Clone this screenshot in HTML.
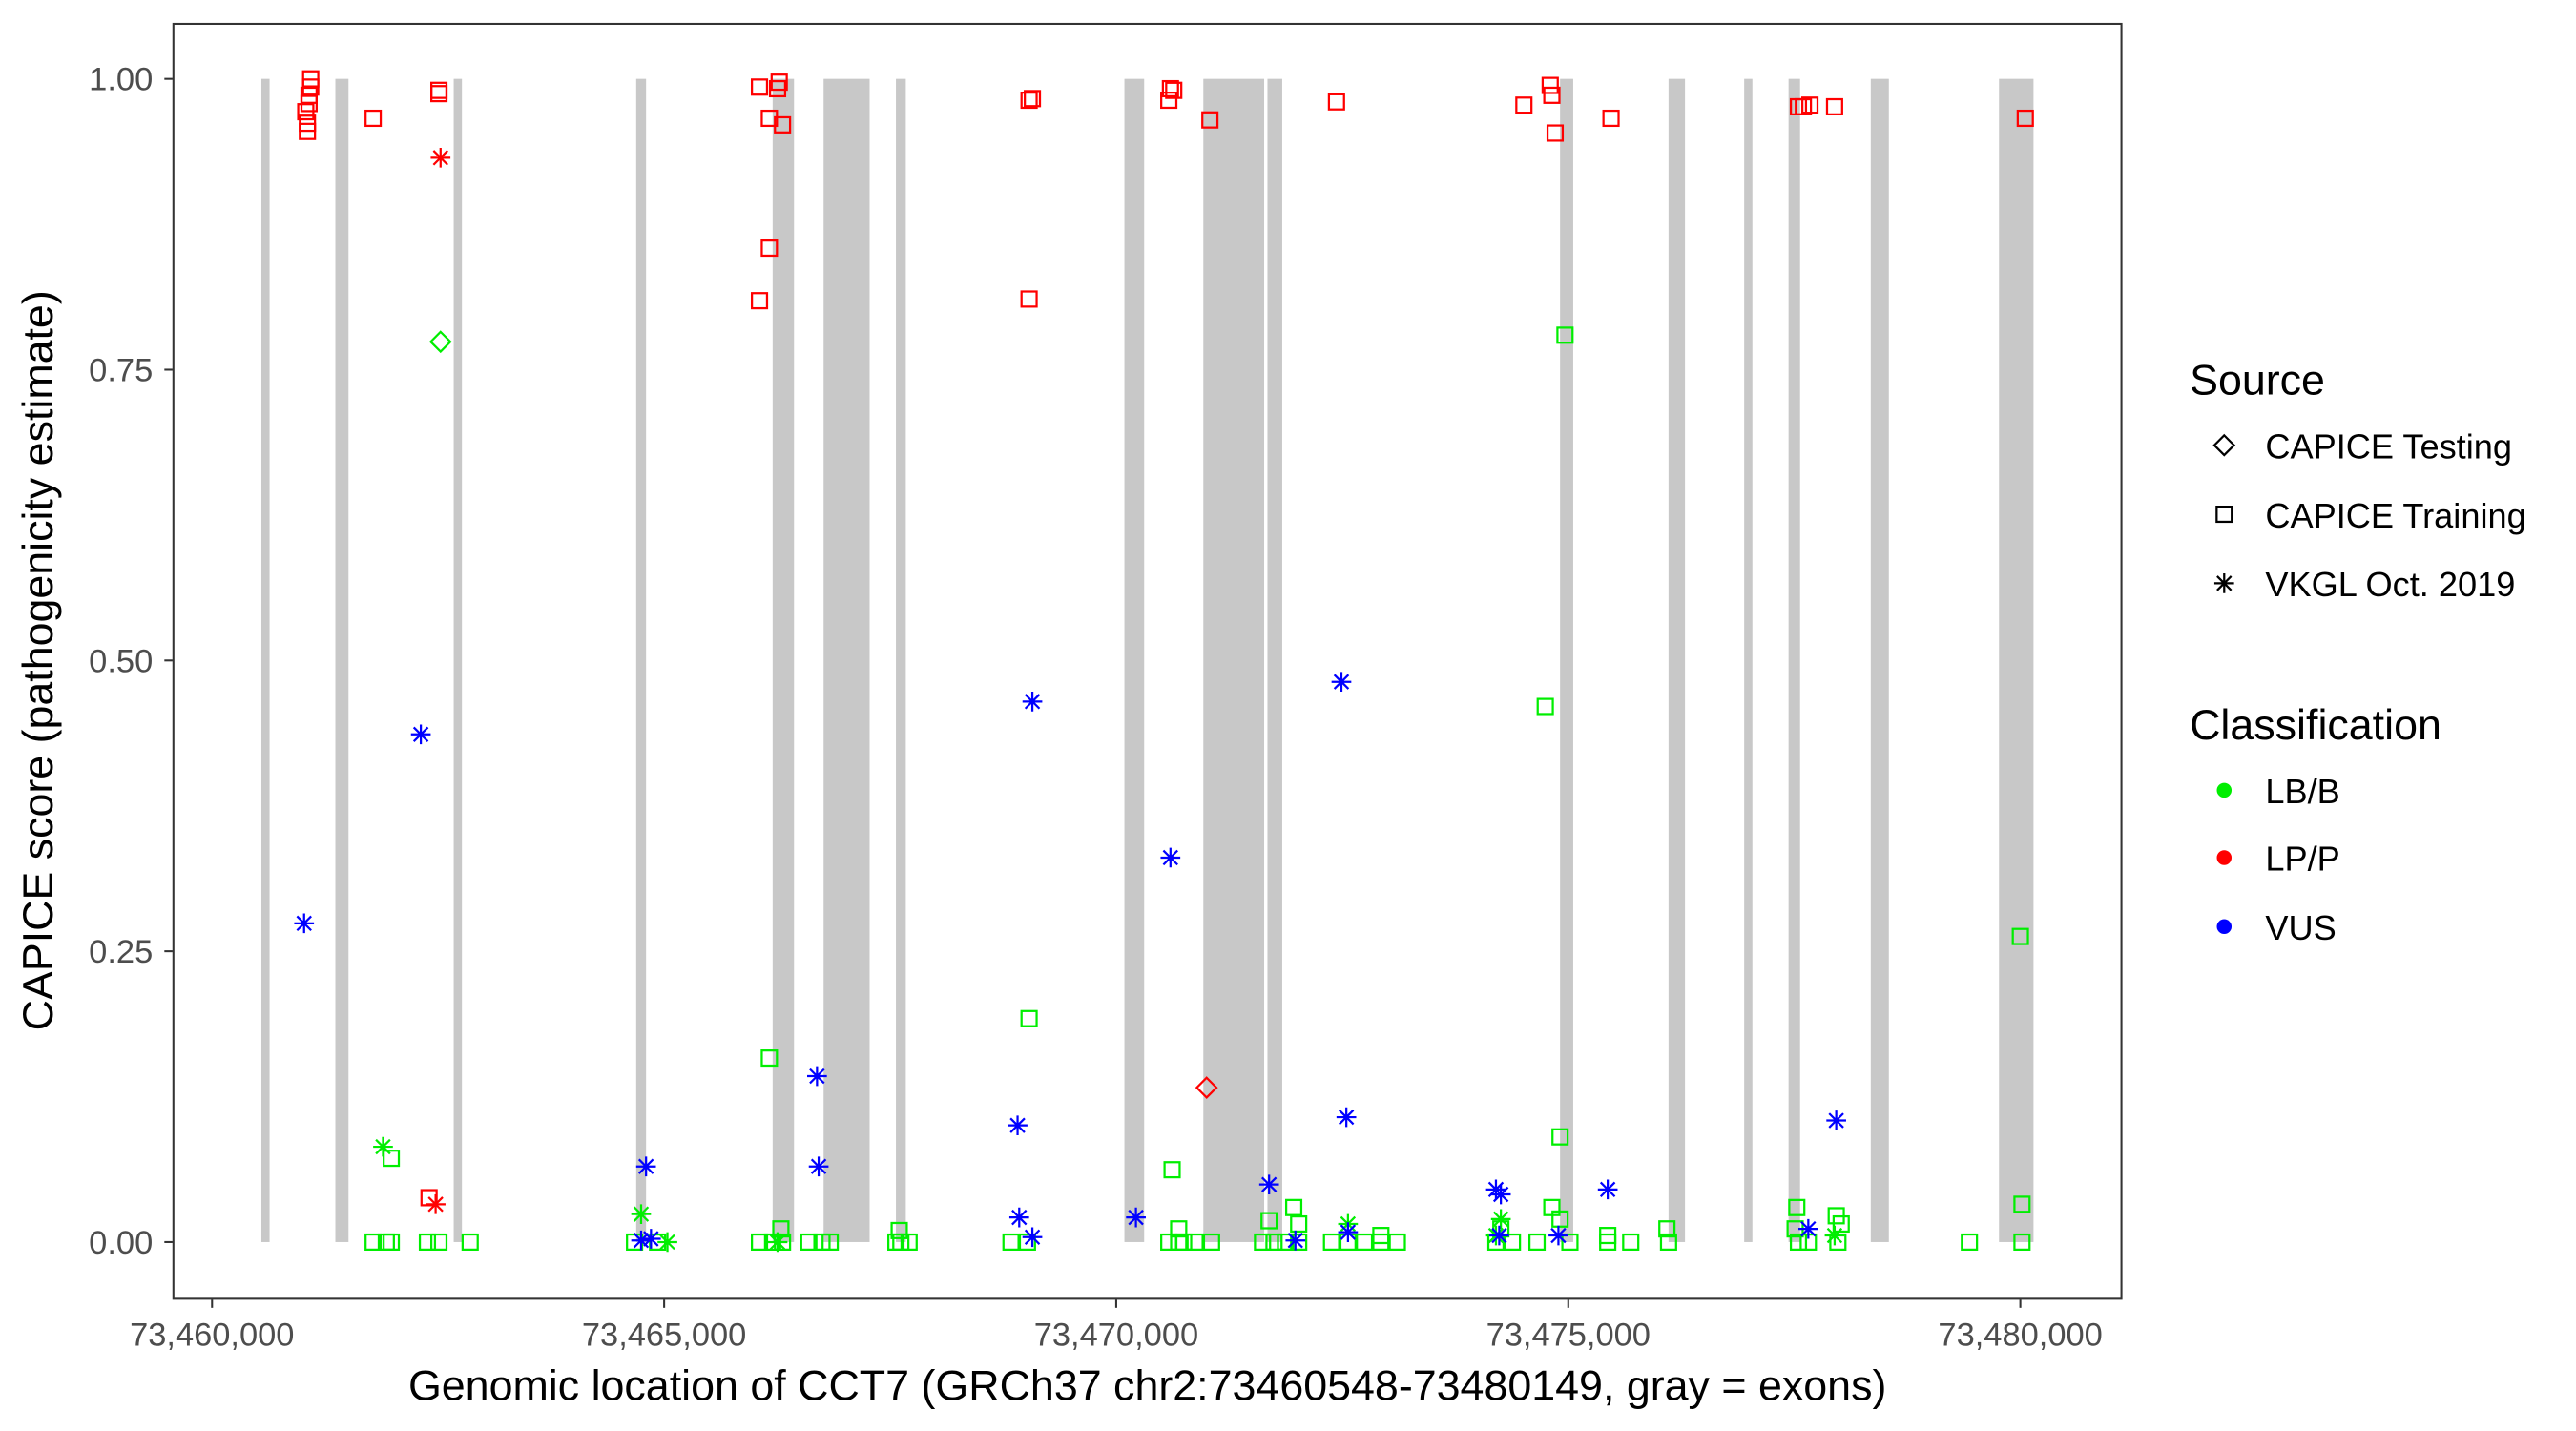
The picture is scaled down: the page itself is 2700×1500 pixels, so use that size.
<!DOCTYPE html>
<html><head><meta charset="utf-8"><style>
html,body{margin:0;padding:0;background:#fff;}
svg{display:block;}
text{font-family:"Liberation Sans",Arial,sans-serif;}
</style></head><body>
<svg width="2700" height="1500" viewBox="0 0 1567 871" preserveAspectRatio="none" xmlns="http://www.w3.org/2000/svg">
<defs>
<rect id="sq" x="-4.6" y="-4.6" width="9.2" height="9.2" fill="none" stroke-width="1.3"/>
<path id="as" d="M0,-6V6M-6,0H6M-4.3,-4.3L4.3,4.3M-4.3,4.3L4.3,-4.3" fill="none" stroke-width="1.3"/>
<path id="di" d="M0,-6L6,0L0,6L-6,0Z" fill="none" stroke-width="1.3"/>
</defs>
<rect x="0" y="0" width="1567" height="871" fill="#fff"/>
<g fill="#c8c8c8">
<rect x="159" y="48" width="5" height="708"/>
<rect x="204" y="48" width="8" height="708"/>
<rect x="276" y="48" width="5" height="708"/>
<rect x="387" y="48" width="6" height="708"/>
<rect x="470" y="48" width="13" height="708"/>
<rect x="501" y="48" width="28" height="708"/>
<rect x="545" y="48" width="6" height="708"/>
<rect x="684" y="48" width="12" height="708"/>
<rect x="732" y="48" width="37" height="708"/>
<rect x="771" y="48" width="9" height="708"/>
<rect x="949" y="48" width="8" height="708"/>
<rect x="1015" y="48" width="10" height="708"/>
<rect x="1061" y="48" width="5" height="708"/>
<rect x="1088" y="48" width="7" height="708"/>
<rect x="1138" y="48" width="11" height="708"/>
<rect x="1216" y="48" width="21" height="708"/>
</g>
<rect x="105.5" y="14.5" width="1185" height="776" fill="none" stroke="#333" stroke-width="1.2"/>
<g stroke="#333" stroke-width="1.2">
<line x1="100" y1="48" x2="105" y2="48"/><line x1="100" y1="225" x2="105" y2="225"/><line x1="100" y1="402" x2="105" y2="402"/><line x1="100" y1="579" x2="105" y2="579"/><line x1="100" y1="756" x2="105" y2="756"/>
<line x1="129" y1="791" x2="129" y2="796"/><line x1="404" y1="791" x2="404" y2="796"/><line x1="679" y1="791" x2="679" y2="796"/><line x1="954" y1="791" x2="954" y2="796"/><line x1="1229" y1="791" x2="1229" y2="796"/>
</g>
<g fill="#4d4d4d" font-size="20" text-anchor="end">
<text x="93" y="55">1.00</text><text x="93" y="232">0.75</text><text x="93" y="409">0.50</text><text x="93" y="586">0.25</text><text x="93" y="763">0.00</text>
</g>
<g fill="#4d4d4d" font-size="20" text-anchor="middle">
<text x="129" y="819">73,460,000</text><text x="404" y="819">73,465,000</text><text x="679" y="819">73,470,000</text><text x="954" y="819">73,475,000</text><text x="1229" y="819">73,480,000</text>
</g>
<text x="698" y="852" font-size="26" text-anchor="middle" fill="#000">Genomic location of CCT7 (GRCh37 chr2:73460548-73480149, gray = exons)</text>
<text transform="translate(32,402) rotate(-90)" font-size="26" text-anchor="middle" fill="#000">CAPICE score (pathogenicity estimate)</text>

<g stroke="#00ee00">
<use href="#sq" x="227" y="756"/><use href="#sq" x="235" y="756"/><use href="#sq" x="238" y="756"/><use href="#sq" x="260" y="756"/><use href="#sq" x="267" y="756"/><use href="#sq" x="286" y="756"/><use href="#sq" x="386" y="756"/><use href="#sq" x="400" y="756"/><use href="#sq" x="462" y="756"/><use href="#sq" x="470" y="756"/><use href="#sq" x="476" y="756"/><use href="#sq" x="492" y="756"/><use href="#sq" x="500" y="756"/><use href="#sq" x="505" y="756"/><use href="#sq" x="545" y="756"/><use href="#sq" x="548" y="756"/><use href="#sq" x="553" y="756"/><use href="#sq" x="615" y="756"/><use href="#sq" x="625" y="756"/><use href="#sq" x="711" y="756"/><use href="#sq" x="717" y="756"/><use href="#sq" x="720" y="756"/><use href="#sq" x="727" y="756"/><use href="#sq" x="737" y="756"/><use href="#sq" x="768" y="756"/><use href="#sq" x="775" y="756"/><use href="#sq" x="782" y="756"/><use href="#sq" x="790" y="756"/><use href="#sq" x="810" y="756"/><use href="#sq" x="820" y="756"/><use href="#sq" x="830" y="756"/><use href="#sq" x="840" y="756"/><use href="#sq" x="850" y="756"/><use href="#sq" x="910" y="756"/><use href="#sq" x="920" y="756"/><use href="#sq" x="935" y="756"/><use href="#sq" x="955" y="756"/><use href="#sq" x="978" y="756"/><use href="#sq" x="992" y="756"/><use href="#sq" x="1015" y="756"/><use href="#sq" x="1094" y="756"/><use href="#sq" x="1100" y="756"/><use href="#sq" x="1118" y="756"/><use href="#sq" x="1198" y="756"/><use href="#sq" x="1230" y="756"/>
<use href="#sq" x="238" y="705"/><use href="#sq" x="468" y="644"/><use href="#sq" x="475" y="748"/><use href="#sq" x="547" y="749"/><use href="#sq" x="626" y="620"/><use href="#sq" x="713" y="712"/><use href="#sq" x="717" y="748"/><use href="#sq" x="772" y="743"/><use href="#sq" x="787" y="735"/><use href="#sq" x="790" y="745"/><use href="#sq" x="840" y="752"/><use href="#sq" x="940" y="430"/><use href="#sq" x="952" y="204"/><use href="#sq" x="949" y="692"/><use href="#sq" x="944" y="735"/><use href="#sq" x="949" y="742"/><use href="#sq" x="1014" y="748"/><use href="#sq" x="1093" y="735"/><use href="#sq" x="1117" y="740"/><use href="#sq" x="1120" y="745"/><use href="#sq" x="1229" y="570"/><use href="#sq" x="1230" y="733"/><use href="#sq" x="1092" y="748"/><use href="#sq" x="978" y="752"/><use href="#sq" x="913" y="748"/>
<use href="#as" x="233" y="698"/><use href="#as" x="390" y="739"/><use href="#as" x="406" y="756"/><use href="#as" x="473" y="756"/><use href="#as" x="820" y="745"/><use href="#as" x="913" y="742"/><use href="#as" x="1116" y="752"/><use href="#as" x="910" y="752"/>
<use href="#di" x="268" y="208"/>
</g>
<g stroke="#ff0000">
<use href="#sq" x="189" y="48"/><use href="#sq" x="189" y="53"/><use href="#sq" x="188" y="58"/><use href="#sq" x="188" y="63"/><use href="#sq" x="186" y="68"/><use href="#sq" x="187" y="75"/><use href="#sq" x="187" y="80"/><use href="#sq" x="227" y="72"/><use href="#sq" x="267" y="55"/><use href="#sq" x="267" y="57"/><use href="#sq" x="462" y="53"/><use href="#sq" x="474" y="50"/><use href="#sq" x="473" y="54"/><use href="#sq" x="468" y="72"/><use href="#sq" x="476" y="76"/><use href="#sq" x="468" y="151"/><use href="#sq" x="462" y="183"/><use href="#sq" x="626" y="61"/><use href="#sq" x="628" y="60"/><use href="#sq" x="712" y="54"/><use href="#sq" x="714" y="55"/><use href="#sq" x="711" y="61"/><use href="#sq" x="736" y="73"/><use href="#sq" x="813" y="62"/><use href="#sq" x="927" y="64"/><use href="#sq" x="943" y="52"/><use href="#sq" x="944" y="58"/><use href="#sq" x="946" y="81"/><use href="#sq" x="980" y="72"/><use href="#sq" x="1094" y="65"/><use href="#sq" x="1097" y="65"/><use href="#sq" x="1101" y="64"/><use href="#sq" x="1116" y="65"/><use href="#sq" x="1232" y="72"/><use href="#sq" x="626" y="182"/><use href="#sq" x="261" y="729"/>
<use href="#as" x="268" y="96"/><use href="#as" x="265" y="733"/>
<use href="#di" x="734" y="662"/>
</g>
<g stroke="#0000ff">
<use href="#as" x="185" y="562"/><use href="#as" x="256" y="447"/><use href="#as" x="393" y="710"/><use href="#as" x="390" y="755"/><use href="#as" x="396" y="754"/><use href="#as" x="497" y="655"/><use href="#as" x="498" y="710"/><use href="#as" x="628" y="427"/><use href="#as" x="619" y="685"/><use href="#as" x="620" y="741"/><use href="#as" x="628" y="753"/><use href="#as" x="691" y="741"/><use href="#as" x="712" y="522"/><use href="#as" x="772" y="721"/><use href="#as" x="788" y="755"/><use href="#as" x="816" y="415"/><use href="#as" x="819" y="680"/><use href="#as" x="820" y="750"/><use href="#as" x="910" y="724"/><use href="#as" x="913" y="727"/><use href="#as" x="912" y="752"/><use href="#as" x="948" y="752"/><use href="#as" x="978" y="724"/><use href="#as" x="1100" y="748"/><use href="#as" x="1117" y="682"/>
</g>

<text x="1332" y="240" font-size="26">Source</text>
<g stroke="#000"><use href="#di" x="1353" y="271"/><use href="#sq" x="1353" y="313"/><use href="#as" x="1353" y="355"/></g>
<g font-size="21" fill="#000"><text x="1378" y="279">CAPICE Testing</text><text x="1378" y="321">CAPICE Training</text><text x="1378" y="363">VKGL Oct. 2019</text></g>
<text x="1332" y="450" font-size="26">Classification</text>
<circle cx="1353" cy="481" r="4.5" fill="#00ee00"/><circle cx="1353" cy="522" r="4.5" fill="#ff0000"/><circle cx="1353" cy="564" r="4.5" fill="#0000ff"/>
<g font-size="21" fill="#000"><text x="1378" y="489">LB/B</text><text x="1378" y="530">LP/P</text><text x="1378" y="572">VUS</text></g>
</svg>
</body></html>
